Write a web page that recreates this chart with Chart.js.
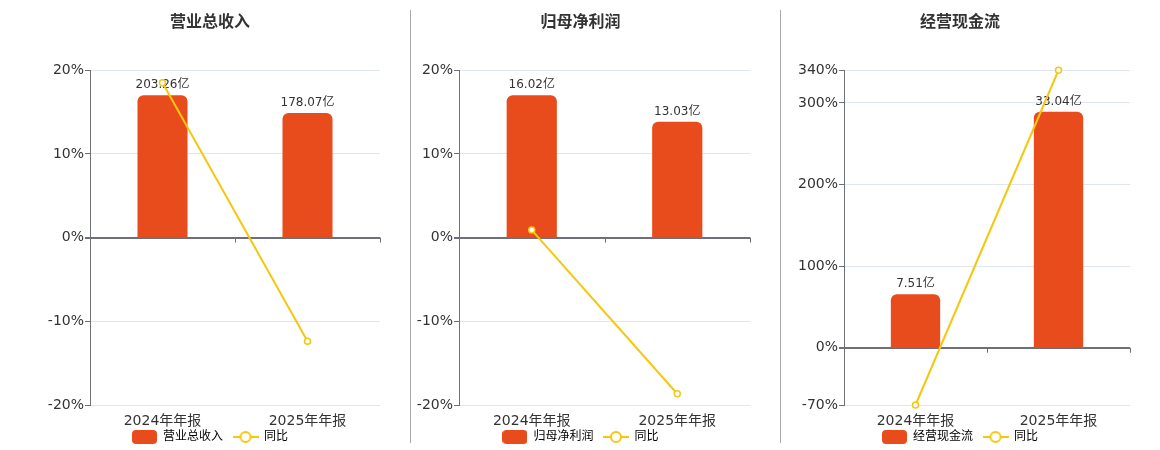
<!DOCTYPE html>
<html>
<head>
<meta charset="utf-8">
<script src="https://cdn.jsdelivr.net/npm/chart.js@4.4.0/dist/chart.umd.min.js"></script>
<style>
  body { margin: 0; background: #fff; width: 1160px; height: 450px; position: relative; overflow: hidden; }
  .panel { position: absolute; top: 0; height: 450px; }
  .sep { position: absolute; top: 10px; height: 433px; width: 1px; background: #aaa; }
</style>
</head>
<body>
<div class="panel" style="left:0;width:410px"><canvas id="c1"></canvas></div>
<div class="sep" style="left:410px"></div>
<div class="panel" style="left:411px;width:369px"><canvas id="c2"></canvas></div>
<div class="sep" style="left:780px"></div>
<div class="panel" style="left:781px;width:379px"><canvas id="c3"></canvas></div>
<script>
// data
const categories = ['2024年年报', '2025年年报'];
const revenue = [203.26, 178.07];
const revenueYoy = [18.5, -12.39];
const netProfit = [16.02, 13.03];
const netProfitYoy = [0.9, -18.66];
const cashFlow = [7.51, 33.04];
const cashFlowYoy = [-70, 339.95];
const ticksPct = [-20, -10, 0, 10, 20];
const ticksCash = [-70, 0, 100, 200, 300, 340];

const BAR = '#e84c1d';
const LINE = '#f5c70f';
const AXIS = '#6e7079';

Chart.defaults.font.family = '"DejaVu Sans", "Noto Sans CJK SC", sans-serif';
Chart.defaults.color = '#333';

// legend icons
function barIcon() {
  const c = document.createElement('canvas');
  c.width = 25; c.height = 14;
  const g = c.getContext('2d');
  g.fillStyle = BAR;
  g.beginPath();
  g.roundRect(0, 0, 25, 14, 4);
  g.fill();
  return c;
}
function lineIcon() {
  const c = document.createElement('canvas');
  c.width = 26; c.height = 14;
  const g = c.getContext('2d');
  g.strokeStyle = LINE;
  g.lineWidth = 2;
  g.beginPath(); g.moveTo(0, 7); g.lineTo(26, 7); g.stroke();
  g.fillStyle = '#fff';
  g.beginPath(); g.arc(13, 7, 5, 0, Math.PI * 2); g.fill(); g.stroke();
  return c;
}

// zero axis with category ticks, like the reference
const zeroAxis = {
  id: 'zeroAxis',
  beforeDatasetsDraw(chart) {
    const { ctx, scales: { x, y } } = chart;
    const y0 = y.getPixelForValue(0);
    const n = chart.data.labels.length;
    const w = (x.right - x.left) / n;
    ctx.save();
    ctx.strokeStyle = AXIS;
    ctx.lineWidth = 1;
    for (let i = 0; i <= n; i++) {
      const px = Math.round(x.left + i * w) + 0.5;
      ctx.beginPath();
      ctx.moveTo(px, y0);
      ctx.lineTo(px, y0 + 5);
      ctx.stroke();
    }
    ctx.restore();
  }
};

// value labels on top of the bars
const barLabels = {
  id: 'barLabels',
  afterDatasetDraw(chart, args) {
    if (args.meta.type !== 'bar') return;
    const { ctx } = chart;
    const ds = chart.data.datasets[args.index];
    ctx.save();
    ctx.font = '12px ' + Chart.defaults.font.family;
    ctx.fillStyle = '#333';
    ctx.textAlign = 'center';
    ctx.textBaseline = 'bottom';
    args.meta.data.forEach((bar, i) => {
      ctx.fillText(ds.data[i].toFixed(2) + '亿', bar.x, bar.y - 4);
    });
    ctx.restore();
  }
};

// pull the legend up close under the category labels
const legendShift = {
  id: 'legendShift',
  afterLayout(chart) {
    const l = chart.legend;
    l.top -= 10;
    l.bottom -= 10;
    if (l.legendHitBoxes) l.legendHitBoxes.forEach(b => { b.top -= 10; });
  }
};

function makeChart(id, title, name, bars, yoy, ticks, axisWidth, padLeft) {
  const top = Math.max(...bars) / 0.85;
  const bottom = top * ticks[0] / ticks[ticks.length - 1];
  return new Chart(document.getElementById(id), {
    type: 'bar',
    data: {
      labels: categories,
      datasets: [{
        type: 'bar',
        label: name,
        data: bars,
        yAxisID: 'y2',
        backgroundColor: BAR,
        borderRadius: { topLeft: 6, topRight: 6, bottomLeft: 0, bottomRight: 0 },
        borderSkipped: 'start',
        barPercentage: 0.345,
        categoryPercentage: 1,
        order: 1
      }, {
        type: 'line',
        label: '同比',
        data: yoy,
        yAxisID: 'y',
        borderColor: LINE,
        borderWidth: 2,
        pointRadius: 3,
        pointBackgroundColor: '#fff',
        pointBorderColor: LINE,
        pointBorderWidth: 1.5,
        tension: 0,
        clip: false,
        order: 0
      }]
    },
    options: {
      responsive: true,
      maintainAspectRatio: false,
      animation: false,
      layout: { padding: { left: padLeft, right: 30, top: 0, bottom: -13 } },
      plugins: {
        title: {
          display: true,
          text: title,
          color: '#333',
          font: { size: 16, weight: 'bold' },
          padding: { top: 13, bottom: 38 }
        },
        legend: {
          position: 'bottom',
          labels: {
            usePointStyle: true,
            pointStyleWidth: 25,
            boxHeight: 14,
            padding: 10,
            color: '#555',
            font: { size: 12 },
            generateLabels() {
              return [
                { text: name, pointStyle: barIcon(), fillStyle: BAR, strokeStyle: BAR, lineWidth: 0, datasetIndex: 0 },
                { text: '同比', pointStyle: lineIcon(), fillStyle: '#fff', strokeStyle: LINE, lineWidth: 0, datasetIndex: 1 }
              ];
            }
          }
        },
        tooltip: { enabled: false }
      },
      scales: {
        x: {
          grid: { display: false, drawTicks: false },
          border: { display: false },
          ticks: { padding: 8, color: '#333', font: { size: 14 } },
          afterFit(scale) {
            scale.height = 26;
          }
        },
        y: {
          position: 'left',
          min: ticks[0],
          max: ticks[ticks.length - 1],
          afterBuildTicks(scale) {
            scale.ticks = ticks.map(v => ({ value: v }));
          },
          afterFit(scale) {
            scale.width = axisWidth;
          },
          border: { display: true, color: AXIS, width: 1 },
          grid: {
            color: ctx => ctx.tick && ctx.tick.value === 0 ? AXIS : '#e0e6f1',
            lineWidth: ctx => ctx.tick && ctx.tick.value === 0 ? 2 : 1,
            tickColor: AXIS,
            tickLength: 5
          },
          ticks: {
            padding: 1,
            color: '#333',
            font: { size: 14 },
            callback: v => v + '%'
          }
        },
        y2: {
          display: false,
          min: bottom,
          max: top
        }
      }
    },
    plugins: [zeroAxis, barLabels, legendShift]
  });
}

makeChart('c1', '营业总收入', '营业总收入', revenue, revenueYoy, ticksPct, 50, 40);
makeChart('c2', '归母净利润', '归母净利润', netProfit, netProfitYoy, ticksPct, 48, 0);
makeChart('c3', '经营现金流', '经营现金流', cashFlow, cashFlowYoy, ticksCash, 54, 9);
</script>
</body>
</html>
